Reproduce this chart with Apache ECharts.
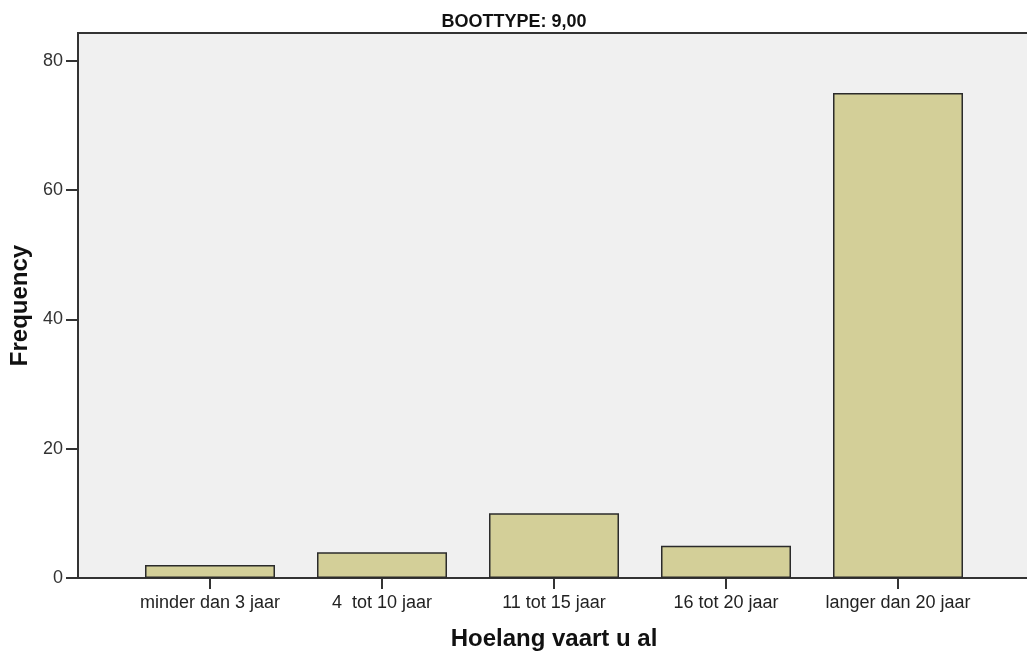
<!DOCTYPE html>
<html>
<head>
<meta charset="utf-8">
<script src="https://cdn.jsdelivr.net/npm/echarts@6/dist/echarts.min.js"></script>
<style>
html,body{margin:0;padding:0;background:#fff;}
#c{width:1027px;height:654px;}
</style>
</head>
<body>
<div id="c"></div>
<script>
var categories = ['minder dan 3 jaar', '4  tot 10 jaar', '11 tot 15 jaar', '16 tot 20 jaar', 'langer dan 20 jaar'];
var frequency = [2, 4, 10, 5, 75];
var yTicks = [0, 20, 40, 60, 80];
var chartTitle = 'BOOTTYPE: 9,00';
var xTitle = 'Hoelang vaart u al';
var yTitle = 'Frequency';

var chart = echarts.init(document.getElementById('c'), null, {renderer: 'canvas'});
var font = '"Liberation Sans", Arial, sans-serif';
chart.setOption({
  animation: false,
  backgroundColor: '#ffffff',
  title: {
    text: chartTitle,
    left: 509, top: 8,
    textAlign: 'center',
    textStyle: {fontFamily: font, fontSize: 18, fontWeight: 'bold', color: '#111'}
  },
  grid: [
    {left: 78, right: -4, top: 33, bottom: 76, show: true, backgroundColor: '#f0f0f0', borderColor: '#333', borderWidth: 2, outerBoundsMode: 'none', containLabel: false},
    {left: 124, right: 43, top: 33, bottom: 76, outerBoundsMode: 'none', containLabel: false}
  ],
  xAxis: [
    {gridIndex: 0, type: 'value', show: false, min: 0, max: 1},
    {
      gridIndex: 1, type: 'category', data: categories,
      axisLine: {show: false},
      axisTick: {show: true, alignWithLabel: true, length: 11, lineStyle: {color: '#333', width: 2}},
      axisLabel: {fontFamily: font, fontSize: 18, color: '#222', margin: 16, interval: 0},
      name: xTitle, nameLocation: 'middle', nameGap: 49,
      nameTextStyle: {fontFamily: font, fontSize: 24, fontWeight: 'bold', color: '#111'}
    }
  ],
  yAxis: [
    {gridIndex: 0, type: 'value', show: false, min: 0, max: 1},
    {
      gridIndex: 1, type: 'value', min: 0, max: 84.3, interval: 20, offset: 46,
      axisLine: {show: false},
      axisTick: {show: true, length: 12, customValues: yTicks, lineStyle: {color: '#333', width: 2}},
      splitLine: {show: false},
      axisLabel: {fontFamily: font, fontSize: 18, color: '#333', margin: 15, customValues: yTicks},
      name: yTitle, nameLocation: 'middle', nameGap: 43,
      nameTextStyle: {fontFamily: font, fontSize: 24, fontWeight: 'bold', color: '#111'}
    }
  ],
  series: [{
    type: 'bar', xAxisIndex: 1, yAxisIndex: 1,
    data: frequency, barWidth: 130,
    itemStyle: {color: '#d3cf98', borderColor: '#2b2b2b', borderWidth: 1.5}
  }]
});
</script>
</body>
</html>
